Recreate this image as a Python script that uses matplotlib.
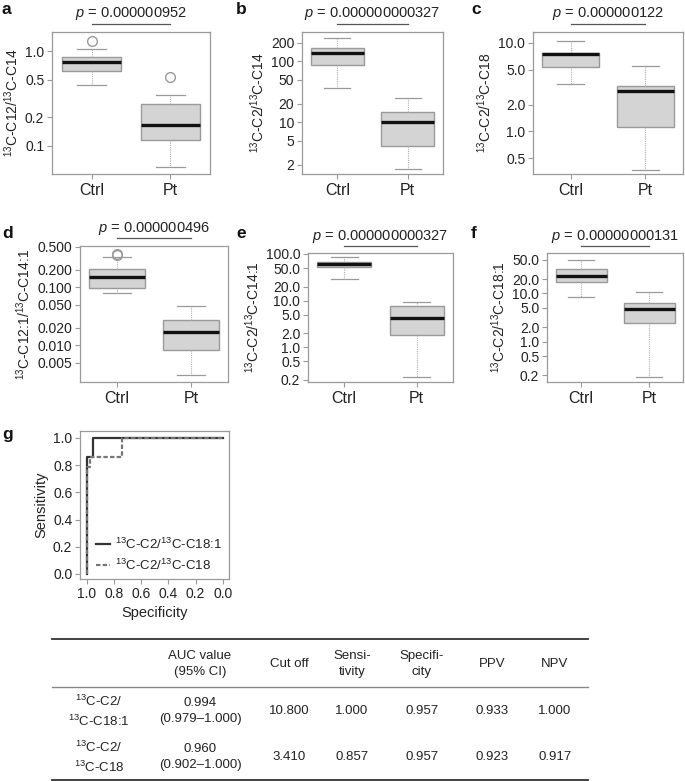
import matplotlib
matplotlib.use('Agg')
import matplotlib.pyplot as plt
from matplotlib.ticker import NullLocator
from matplotlib.lines import Line2D

plt.rcParams['font.family'] = 'Liberation Sans'
plt.rcParams['mathtext.fontset'] = 'custom'
plt.rcParams['mathtext.rm'] = 'Liberation Sans'
plt.rcParams['mathtext.it'] = 'Liberation Sans:italic'
plt.rcParams['mathtext.bf'] = 'Liberation Sans:bold'

W, H = 685, 781

# box stats: [whislo, q1, med, q3, whishi]
groups = ['Ctrl', 'Pt']

a_ctrl = [0.44, 0.62, 0.77, 0.865, 1.05]
a_ctrl_out = [1.27]
a_pt = [0.059, 0.116, 0.166, 0.277, 0.344]
a_pt_out = [0.53]

b_ctrl = [36, 86, 135, 163, 238]
b_pt = [1.7, 4.05, 10.0, 14.6, 24.7]

c_ctrl = [3.42, 5.33, 7.5, 7.7, 10.5]
c_pt = [0.37, 1.11, 2.85, 3.25, 5.48]

d_ctrl = [0.079, 0.096, 0.149, 0.204, 0.34]
d_ctrl_out = [0.36, 0.38]
d_pt = [0.0030, 0.0082, 0.0168, 0.027, 0.047]

e_ctrl = [29.4, 53, 61, 67, 86]
e_pt = [0.23, 1.8, 4.14, 7.8, 9.5]

f_ctrl = [8.3, 17.6, 23.3, 32.4, 49.4]
f_pt = [0.184, 2.44, 4.7, 6.25, 10.5]

p_values = ['0.000000952', '0.000000000327', '0.000000122',
            '0.000000496', '0.000000000327', '0.00000000131']

ylabels = [r'$^{13}$C-C12/$^{13}$C-C14', r'$^{13}$C-C2/$^{13}$C-C14',
           r'$^{13}$C-C2/$^{13}$C-C18', r'$^{13}$C-C12:1/$^{13}$C-C14:1',
           r'$^{13}$C-C2/$^{13}$C-C14:1', r'$^{13}$C-C2/$^{13}$C-C18:1']

a_ticks = [0.1, 0.2, 0.5, 1.0]
a_ticklabels = ['0.1', '0.2', '0.5', '1.0']
b_ticks = [2, 5, 10, 20, 50, 100, 200]
b_ticklabels = ['2', '5', '10', '20', '50', '100', '200']
c_ticks = [0.5, 1.0, 2.0, 5.0, 10.0]
c_ticklabels = ['0.5', '1.0', '2.0', '5.0', '10.0']
d_ticks = [0.005, 0.010, 0.020, 0.050, 0.100, 0.200, 0.500]
d_ticklabels = ['0.005', '0.010', '0.020', '0.050', '0.100', '0.200', '0.500']
e_ticks = [0.2, 0.5, 1.0, 2.0, 5.0, 10.0, 20.0, 50.0, 100.0]
e_ticklabels = ['0.2', '0.5', '1.0', '2.0', '5.0', '10.0', '20.0', '50.0', '100.0']
f_ticks = [0.2, 0.5, 1.0, 2.0, 5.0, 10.0, 20.0, 50.0]
f_ticklabels = ['0.2', '0.5', '1.0', '2.0', '5.0', '10.0', '20.0', '50.0']

# ROC curves (specificity, sensitivity)
roc1_spec = [1.0, 1.0, 0.957, 0.957, 0.0]
roc1_sens = [0.0, 0.857, 0.857, 1.0, 1.0]
roc2_spec = [1.0, 1.0, 0.978, 0.978, 0.739, 0.739, 0.0]
roc2_sens = [0.0, 0.786, 0.786, 0.857, 0.857, 1.0, 1.0]
roc_labels = [r'$^{13}$C-C2/$^{13}$C-C18:1', r'$^{13}$C-C2/$^{13}$C-C18']
roc_ticks = [0.0, 0.2, 0.4, 0.6, 0.8, 1.0]

# table
table_header = ['', 'AUC value\n(95% CI)', 'Cut off', 'Sensi-\ntivity',
                'Specifi-\ncity', 'PPV', 'NPV']
table_row1 = [r'$^{13}$C-C2/' + '\n' + r'$^{13}$C-C18:1', '0.994\n(0.979–1.000)',
              '10.800', '1.000', '0.957', '0.933', '1.000']
table_row2 = [r'$^{13}$C-C2/' + '\n' + r'$^{13}$C-C18', '0.960\n(0.902–1.000)',
              '3.410', '0.857', '0.957', '0.923', '0.917']

GREY = '#9a9a9a'
TXT = '#222222'


def px_axes(fig, x0, y0, x1, y1):
    return fig.add_axes([x0 / W, 1 - y1 / H, (x1 - x0) / W, (y1 - y0) / H])


def style_axes(ax):
    for s in ax.spines.values():
        s.set_color(GREY)
        s.set_linewidth(0.9)
    ax.tick_params(color=GREY, length=3.5, width=0.8, labelsize=10,
                   labelcolor=TXT, pad=2)


def box_panel(ax, ctrl, pt, ctrl_out, pt_out, ticks, ticklabels, ylim, ylabel, pval):
    stats = []
    for vals, out, lab in [(ctrl, ctrl_out, groups[0]), (pt, pt_out, groups[1])]:
        stats.append(dict(whislo=vals[0], q1=vals[1], med=vals[2], q3=vals[3],
                          whishi=vals[4], fliers=out, label=lab))
    ax.bxp(stats, positions=[1, 2], widths=0.75, capwidths=0.37, patch_artist=True,
           boxprops=dict(facecolor='#d4d4d4', edgecolor=GREY, linewidth=1.0),
           medianprops=dict(color='#111111', linewidth=2.4, solid_capstyle='butt'),
           whiskerprops=dict(color='#b0b0b0', linewidth=0.8, linestyle=(0, (1, 1))),
           capprops=dict(color=GREY, linewidth=0.9),
           flierprops=dict(marker='o', markerfacecolor='none', markeredgecolor=GREY,
                           markersize=7, markeredgewidth=1.0))
    ax.set_yscale('log')
    ax.yaxis.set_minor_locator(NullLocator())
    ax.set_yticks(ticks)
    ax.set_yticklabels(ticklabels)
    ax.set_ylim(ylim)
    ax.set_xlim(0.5, 2.5)
    style_axes(ax)
    ax.tick_params(axis='x', labelsize=11.5, pad=3)
    ax.set_ylabel(ylabel, fontsize=10, color=TXT, labelpad=3)
    ax.text(0.5, 1.13, r'$p$ = ' + pval, transform=ax.transAxes, ha='center',
            va='center', fontsize=10.5, color=TXT)
    ax.plot([1, 2], [1.058, 1.058], transform=ax.get_xaxis_transform(),
            clip_on=False, color='#555555', lw=0.9)


fig = plt.figure(figsize=(W / 100, H / 100), dpi=100)

ax_a = px_axes(fig, 52, 32, 210, 174)
box_panel(ax_a, a_ctrl, a_pt, a_ctrl_out, a_pt_out, a_ticks, a_ticklabels,
          (0.05, 1.6), ylabels[0], p_values[0])
ax_b = px_axes(fig, 302, 32, 443, 174)
box_panel(ax_b, b_ctrl, b_pt, [], [], b_ticks, b_ticklabels,
          (1.42, 300), ylabels[1], p_values[1])
ax_c = px_axes(fig, 533, 32, 683, 174)
box_panel(ax_c, c_ctrl, c_pt, [], [], c_ticks, c_ticklabels,
          (0.33, 13.3), ylabels[2], p_values[2])
ax_d = px_axes(fig, 80, 246, 228, 382)
box_panel(ax_d, d_ctrl, d_pt, d_ctrl_out, [], d_ticks, d_ticklabels,
          (0.0023, 0.52), ylabels[3], p_values[3])
ax_e = px_axes(fig, 308, 253, 453, 382)
box_panel(ax_e, e_ctrl, e_pt, [], [], e_ticks, e_ticklabels,
          (0.18, 105), ylabels[4], p_values[4])
ax_f = px_axes(fig, 547, 253, 683, 382)
box_panel(ax_f, f_ctrl, f_pt, [], [], f_ticks, f_ticklabels,
          (0.144, 69.5), ylabels[5], p_values[5])

# ROC panel
ax_g = px_axes(fig, 80, 431, 229, 579)
ax_g.plot(roc1_spec, roc1_sens, color='#333333', lw=1.6, label=roc_labels[0])
ax_g.plot(roc2_spec, roc2_sens, color='#777777', lw=1.6, ls=(0, (2, 1)),
          label=roc_labels[1])
ax_g.set_xlim(1.05, -0.045)
ax_g.set_ylim(-0.037, 1.05)
ax_g.set_xticks(roc_ticks)
ax_g.set_yticks(roc_ticks)
ax_g.set_xticklabels(['%.1f' % t for t in roc_ticks])
ax_g.set_yticklabels(['%.1f' % t for t in roc_ticks])
style_axes(ax_g)
ax_g.set_xlabel('Specificity', fontsize=10.5, color=TXT, labelpad=4)
ax_g.set_ylabel('Sensitivity', fontsize=10.5, color=TXT, labelpad=3)
ax_g.legend(loc='lower left', bbox_to_anchor=(0.03, -0.04), frameon=False,
            fontsize=9.5, handlelength=1.0, handletextpad=0.45, labelspacing=0.45,
            labelcolor=TXT)

# panel letters
letters = ['a', 'b', 'c', 'd', 'e', 'f', 'g']
letter_pos = [(2, 10), (236, 10), (471, 10), (2, 233), (236, 233), (471, 233), (2, 435)]
for lab, (x, y) in zip(letters, letter_pos):
    fig.text(x / W, 1 - y / H, lab, fontsize=12.5, fontweight='bold', ha='left',
             va='center', color='#111111')

# table
col_x = [99, 200, 289, 352, 422, 492, 555]
row_y = [664, 711, 757]
line_x0, line_x1 = 52, 588
for i, row in enumerate([table_header, table_row1, table_row2]):
    for x, txt in zip(col_x, row):
        fig.text(x / W, 1 - row_y[i] / H, txt, fontsize=9.5, ha='center', va='center',
                 multialignment='center', color=TXT, linespacing=1.4)
for y, c, lw in [(639, '#333333', 1.3), (687, '#888888', 1.0), (779.5, '#333333', 1.3)]:
    fig.add_artist(Line2D([line_x0 / W, line_x1 / W], [1 - y / H, 1 - y / H],
                          color=c, lw=lw, transform=fig.transFigure))

fig.savefig('out.png', dpi=100)
